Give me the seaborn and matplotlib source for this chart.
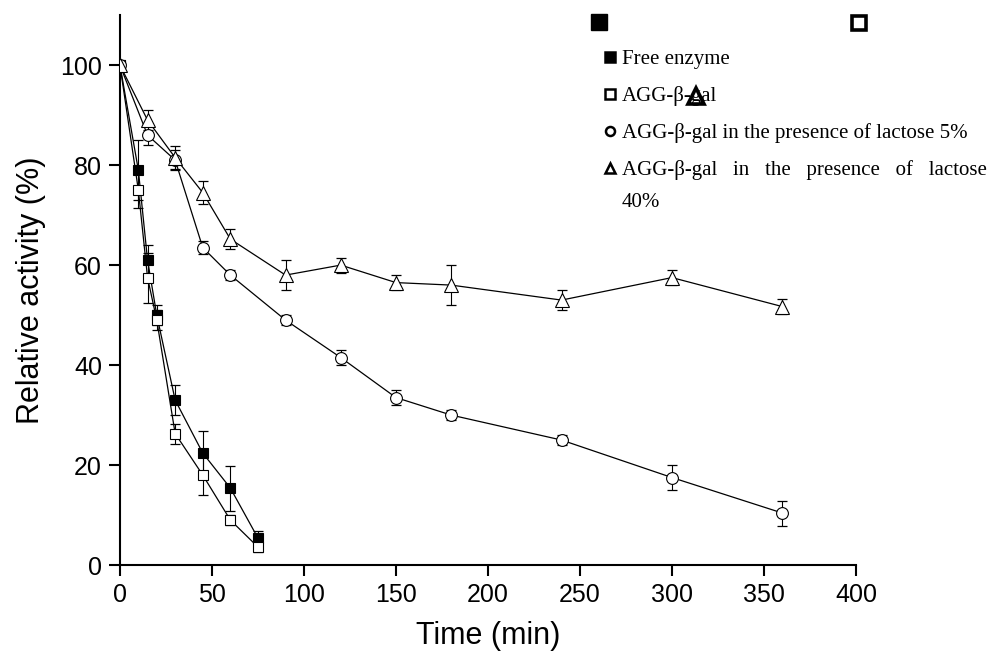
import numpy as np
import pandas as pd
import matplotlib
matplotlib.use('Agg')
import matplotlib.pyplot as plt
import seaborn as sns
from matplotlib.lines import Line2D

# time points (min)
t_short = [0, 10, 15, 20, 30, 45, 60, 75]
t_long = [0, 15, 30, 45, 60, 90, 120, 150, 180, 240, 300, 360]

# relative activity (%) and error
free_enzyme = [100, 79, 61, 50, 33, 22.4, 15.4, 5.4]
free_err = [0, 6, 3, 2, 3, 4.5, 4.5, 1.5]
agg = [100, 75, 57.5, 49, 26.3, 18, 9, 3.6]
agg_err = [0, 3.5, 5, 2, 2, 4, 1, 1]
lac5 = [100, 86, 81, 63.5, 58, 49, 41.5, 33.5, 30, 25, 17.5, 10.4]
lac5_err = [0, 2, 2, 1.3, 1, 1, 1.5, 1.5, 1, 1, 2.5, 2.5]
lac40 = [100, 89, 81.5, 74.5, 65.2, 58, 60, 56.5, 56, 53, 57.5, 51.7]
lac40_err = [0, 2, 2.3, 2.3, 2, 3, 1.5, 1.5, 4, 2, 1.5, 1.5]

labels = ['Free enzyme', 'AGG-β-gal', 'AGG-β-gal in the presence of lactose 5%',
          'AGG-β-gal   in   the   presence   of   lactose']

series = [
    (t_short, free_enzyme, free_err, 's', 'black', 7.5),
    (t_short, agg, agg_err, 's', 'white', 7.5),
    (t_long, lac5, lac5_err, 'o', 'white', 8.5),
    (t_long, lac40, lac40_err, '^', 'white', 9.5),
]

sns.set_theme(style='ticks')
plt.rcParams['font.family'] = ['Liberation Sans', 'DejaVu Sans']
plt.rcParams['text.color'] = 'black'
plt.rcParams['axes.labelcolor'] = 'black'

fig = plt.figure(figsize=(9.93, 6.59), dpi=100)
ax = fig.add_axes([0.1208, 0.1426, 0.862 - 0.1208, 0.977 - 0.1426])

for x, y, err, mk, fc, ms in series:
    df = pd.DataFrame({'t': x, 'v': y})
    ax.errorbar(x, y, yerr=err, fmt='none', ecolor='black', elinewidth=0.8,
                capsize=3.8, capthick=0.9, zorder=2)
    sns.lineplot(data=df, x='t', y='v', ax=ax, color='black', linewidth=0.9,
                 marker=mk, markersize=ms, markerfacecolor=fc,
                 markeredgecolor='black', markeredgewidth=0.8, zorder=3)

ax.set_xlim(0, 400)
ax.set_ylim(0, 110)
ax.set_xticks(np.arange(0, 401, 50))
ax.set_yticks(np.arange(0, 101, 20))
ax.tick_params(axis='both', direction='out', length=8, width=1.5,
               labelsize=18, colors='black', pad=5)
for s in ['left', 'bottom']:
    ax.spines[s].set_linewidth(1.5)
    ax.spines[s].set_color('black')
sns.despine(ax=ax)
ax.set_xlabel('Time (min)', fontsize=22, labelpad=10)
ax.set_ylabel('Relative activity (%)', fontsize=22, labelpad=10)

# legend
handles = [
    Line2D([], [], ls='none', marker='s', ms=7, mfc='black', mec='black', mew=1.8),
    Line2D([], [], ls='none', marker='s', ms=6.5, mfc='white', mec='black', mew=1.8),
    Line2D([], [], ls='none', marker='o', ms=6.5, mfc='white', mec='black', mew=1.8),
    Line2D([], [], ls='none', marker='^', ms=7, mfc='white', mec='black', mew=1.8),
]
leg = fig.legend(handles, labels, loc='upper left', bbox_to_anchor=(0.600, 0.937),
                 frameon=False, handlelength=0.6, handletextpad=0.27,
                 labelspacing=0.81, borderaxespad=0,
                 prop={'family': 'Liberation Serif', 'size': 15})
fig.text(0.6264, 0.692, '40%', fontsize=15, family='Liberation Serif',
         ha='left', va='center')

# stray symbols in the original figure
tf = fig.transFigure
fig.add_artist(Line2D([0.6035], [0.966], transform=tf, marker='s', ms=12,
                      mfc='black', mec='black', mew=1))
fig.add_artist(Line2D([0.8655], [0.965], transform=tf, marker='s', ms=10.5,
                      mfc='white', mec='black', mew=2.6))
fig.add_artist(Line2D([0.7005], [0.855], transform=tf, marker='^', ms=11,
                      mfc='none', mec='black', mew=2.6))

fig.savefig('out.png', dpi=100, facecolor='white')
